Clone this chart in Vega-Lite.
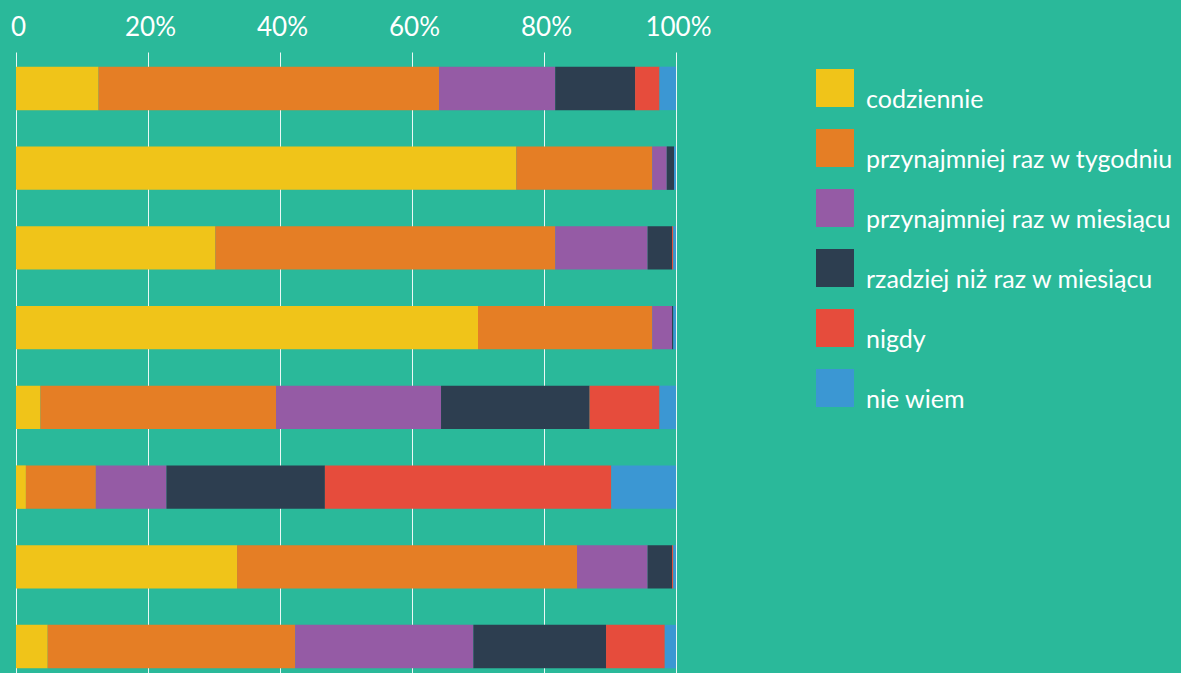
{
  "$schema": "https://vega.github.io/schema/vega-lite/v6.json",
  "width": 660,
  "height": 631,
  "autosize": {"type": "none"},
  "padding": {"left": 16, "top": 52, "right": 505, "bottom": 0},
  "background": "#2AB99A",
  "config": {
    "view": {"stroke": null},
    "font": "Lato",
    "axis": {"labelFont": "Lato", "labelColor": "#FFFFFF"},
    "legend": {"labelFont": "Lato", "labelColor": "#FFFFFF"}
  },
  "data": {
    "values": [
      {"q": 1, "cat": "codziennie", "k": 1, "v": 12.5},
      {"q": 1, "cat": "przynajmniej raz w tygodniu", "k": 2, "v": 51.6},
      {"q": 1, "cat": "przynajmniej raz w miesiącu", "k": 3, "v": 17.6},
      {"q": 1, "cat": "rzadziej niż raz w miesiącu", "k": 4, "v": 12.1},
      {"q": 1, "cat": "nigdy", "k": 5, "v": 3.7},
      {"q": 1, "cat": "nie wiem", "k": 6, "v": 2.5},
      {"q": 2, "cat": "codziennie", "k": 1, "v": 75.8},
      {"q": 2, "cat": "przynajmniej raz w tygodniu", "k": 2, "v": 20.6},
      {"q": 2, "cat": "przynajmniej raz w miesiącu", "k": 3, "v": 2.2},
      {"q": 2, "cat": "rzadziej niż raz w miesiącu", "k": 4, "v": 1.1},
      {"q": 2, "cat": "nigdy", "k": 5, "v": 0},
      {"q": 2, "cat": "nie wiem", "k": 6, "v": 0.3},
      {"q": 3, "cat": "codziennie", "k": 1, "v": 30.2},
      {"q": 3, "cat": "przynajmniej raz w tygodniu", "k": 2, "v": 51.5},
      {"q": 3, "cat": "przynajmniej raz w miesiącu", "k": 3, "v": 14.0},
      {"q": 3, "cat": "rzadziej niż raz w miesiącu", "k": 4, "v": 3.7},
      {"q": 3, "cat": "nigdy", "k": 5, "v": 0.2},
      {"q": 3, "cat": "nie wiem", "k": 6, "v": 0.4},
      {"q": 4, "cat": "codziennie", "k": 1, "v": 70.0},
      {"q": 4, "cat": "przynajmniej raz w tygodniu", "k": 2, "v": 26.4},
      {"q": 4, "cat": "przynajmniej raz w miesiącu", "k": 3, "v": 3.0},
      {"q": 4, "cat": "rzadziej niż raz w miesiącu", "k": 4, "v": 0.2},
      {"q": 4, "cat": "nigdy", "k": 5, "v": 0},
      {"q": 4, "cat": "nie wiem", "k": 6, "v": 0.4},
      {"q": 5, "cat": "codziennie", "k": 1, "v": 3.7},
      {"q": 5, "cat": "przynajmniej raz w tygodniu", "k": 2, "v": 35.7},
      {"q": 5, "cat": "przynajmniej raz w miesiącu", "k": 3, "v": 25.0},
      {"q": 5, "cat": "rzadziej niż raz w miesiącu", "k": 4, "v": 22.5},
      {"q": 5, "cat": "nigdy", "k": 5, "v": 10.6},
      {"q": 5, "cat": "nie wiem", "k": 6, "v": 2.5},
      {"q": 6, "cat": "codziennie", "k": 1, "v": 1.5},
      {"q": 6, "cat": "przynajmniej raz w tygodniu", "k": 2, "v": 10.6},
      {"q": 6, "cat": "przynajmniej raz w miesiącu", "k": 3, "v": 10.7},
      {"q": 6, "cat": "rzadziej niż raz w miesiącu", "k": 4, "v": 24.0},
      {"q": 6, "cat": "nigdy", "k": 5, "v": 43.4},
      {"q": 6, "cat": "nie wiem", "k": 6, "v": 9.8},
      {"q": 7, "cat": "codziennie", "k": 1, "v": 33.5},
      {"q": 7, "cat": "przynajmniej raz w tygodniu", "k": 2, "v": 51.5},
      {"q": 7, "cat": "przynajmniej raz w miesiącu", "k": 3, "v": 10.7},
      {"q": 7, "cat": "rzadziej niż raz w miesiącu", "k": 4, "v": 3.7},
      {"q": 7, "cat": "nigdy", "k": 5, "v": 0.2},
      {"q": 7, "cat": "nie wiem", "k": 6, "v": 0.4},
      {"q": 8, "cat": "codziennie", "k": 1, "v": 4.8},
      {"q": 8, "cat": "przynajmniej raz w tygodniu", "k": 2, "v": 37.5},
      {"q": 8, "cat": "przynajmniej raz w miesiącu", "k": 3, "v": 27.0},
      {"q": 8, "cat": "rzadziej niż raz w miesiącu", "k": 4, "v": 20.1},
      {"q": 8, "cat": "nigdy", "k": 5, "v": 8.9},
      {"q": 8, "cat": "nie wiem", "k": 6, "v": 1.7}
    ]
  },
  "mark": {"type": "bar"},
  "encoding": {
    "y": {
      "field": "q",
      "type": "ordinal",
      "axis": null,
      "scale": {"paddingInner": 0.455, "paddingOuter": 0.184}
    },
    "x": {
      "field": "v",
      "type": "quantitative",
      "stack": "zero",
      "scale": {"domain": [0, 100], "nice": false},
      "axis": {
        "orient": "top",
        "values": [0, 20, 40, 60, 80, 100],
        "labelExpr": "datum.value == 0 ? '0' : datum.value + '%'",
        "domain": false,
        "ticks": false,
        "tickSize": 0,
        "labelPadding": 17,
        "labelBaseline": "alphabetic",
        "labelFontSize": 26,
        "labelOffset": 2,
        "labelFlush": false,
        "grid": true,
        "gridColor": "#FFFFFF",
        "gridOpacity": 0.9,
        "gridWidth": 1,
        "title": null
      }
    },
    "color": {
      "field": "cat",
      "type": "nominal",
      "scale": {
        "domain": ["codziennie", "przynajmniej raz w tygodniu", "przynajmniej raz w miesiącu", "rzadziej niż raz w miesiącu", "nigdy", "nie wiem"],
        "range": ["#F0C419", "#E57E25", "#955BA5", "#2D3E50", "#E64C3C", "#3B97D3"]
      },
      "legend": {
        "title": null,
        "orient": "none",
        "legendX": 800,
        "legendY": 17,
        "padding": 0,
        "symbolType": "square",
        "symbolSize": 1444,
        "symbolStrokeWidth": 0,
        "symbolOpacity": 1,
        "labelFontSize": 25,
        "labelBaseline": "top",
        "labelOffset": 12,
        "labelLimit": 400,
        "rowPadding": 16
      }
    },
    "order": {"field": "k", "type": "quantitative"}
  }
}
